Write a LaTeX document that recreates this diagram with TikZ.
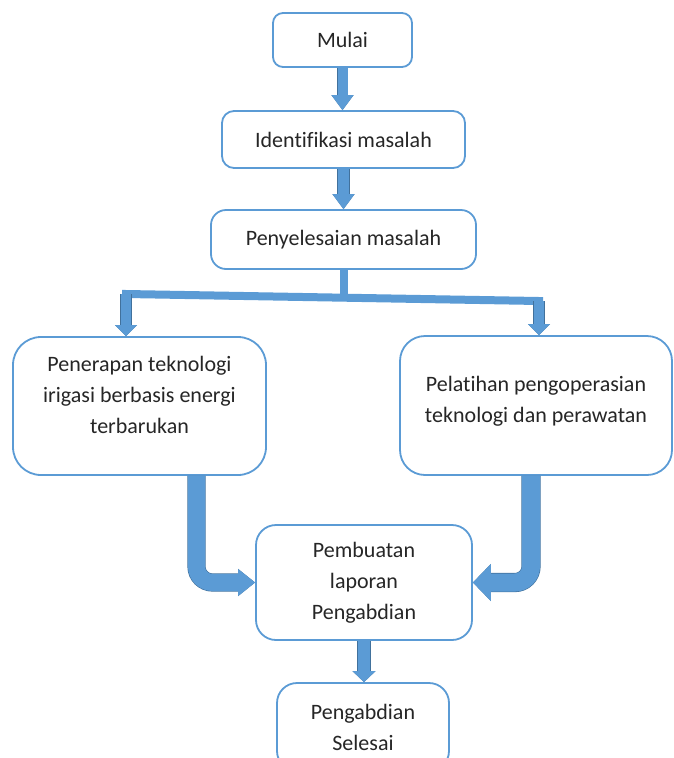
\documentclass[tikz,border=0pt]{standalone}
\usepackage{fontspec}
\setmainfont{Carlito}[Ligatures=CommonOff]
\usetikzlibrary{arrows.meta, calc}
\definecolor{boxline}{RGB}{91,155,213}
\definecolor{arrowfill}{RGB}{91,155,213}
\definecolor{arrowedge}{RGB}{65,113,156}

\begin{document}
\begin{tikzpicture}[x=1pt, y=-1pt,
  box/.style={draw=boxline, line width=1.8pt, fill=white, align=center, inner sep=0pt,
    font=\fontsize{22}{31}\selectfont, text=black!85},
  boxtext/.style={align=center, inner sep=0pt, font=\fontsize{22}{31}\selectfont, text=black!85},
  fatarrow/.style n args={3}{draw=arrowfill, line width=#1,
    -{Triangle[length=#3, width=#2, line width=0pt]},
    preaction={draw=arrowedge, line width=#1+1.2pt,
      -{Triangle[length=#3, width=#2, line width=1.2pt]}}},
  bar/.style={draw=arrowfill, line width=8pt}]
  \useasboundingbox (0,0) rectangle (673,758);

  % kotak atas
  \node[box, rounded corners=10pt, minimum width=139pt, minimum height=54pt] (mulai) at (342.5,40) {Mulai};
  \node[box, rounded corners=12pt, minimum width=243pt, minimum height=57pt] (ident) at (343.5,139.5) {Identifikasi masalah};
  \node[box, rounded corners=15pt, minimum width=265pt, minimum height=59pt] (pen) at (343.5,239.5) {Penyelesaian masalah};

  % dua cabang
  \node[box, rounded corners=28pt, minimum width=253pt, minimum height=138pt] (leftbox) at (139.5,406) {};
  \node[boxtext] (lefttext) at ($(leftbox.center)+(0,-11)$)
    {Penerapan teknologi\\irigasi berbasis energi\\terbarukan};
  \node[box, rounded corners=25pt, minimum width=272pt, minimum height=139pt] (rightbox) at (536,405.5) {};
  \node[boxtext] (righttext) at ($(rightbox.center)+(0,-4)$)
    {Pelatihan pengoperasian\\teknologi dan perawatan};

  % kotak bawah
  \node[box, rounded corners=20pt, minimum width=216pt, minimum height=115pt] (pemb) at (364,582.5)
    {Pembuatan\\laporan\\Pengabdian};
  \node[box, rounded corners=20pt, minimum width=172pt, minimum height=88pt] (selesai) at (363,727)
    {Pengabdian\\Selesai};

  % panah lurus
  \draw[fatarrow={10pt}{22pt}{15pt}] (mulai.south) -- (mulai.south |- ident.north);
  \draw[fatarrow={11pt}{22pt}{15pt}] (ident.south) -- (ident.south |- pen.north);

  % percabangan
  \coordinate (brL) at (126,294);
  \coordinate (brR) at (539,301);
  \draw[bar] (pen.south) -- ++(0,27);
  \draw[bar, line cap=rect] (brL) -- (brR);
  \draw[fatarrow={10pt}{22pt}{11pt}] (brL) -- (brL |- leftbox.north);
  \draw[fatarrow={10pt}{22pt}{11pt}] (brR) -- (brR |- rightbox.north);

  % panah belok
  \coordinate (lbend) at ($(leftbox.south)+(57,0)$);
  \coordinate (rbend) at ($(rightbox.south)+(-5,0)$);
  \draw[fatarrow={17pt}{27pt}{17pt}, rounded corners=16pt] (lbend) |- (pemb.west);
  \draw[fatarrow={18pt}{37pt}{18pt}, rounded corners=16pt] (rbend) |- (pemb.east);

  \draw[fatarrow={12pt}{23pt}{11pt}] (pemb.south) -- (pemb.south |- selesai.north);
\end{tikzpicture}
\end{document}
